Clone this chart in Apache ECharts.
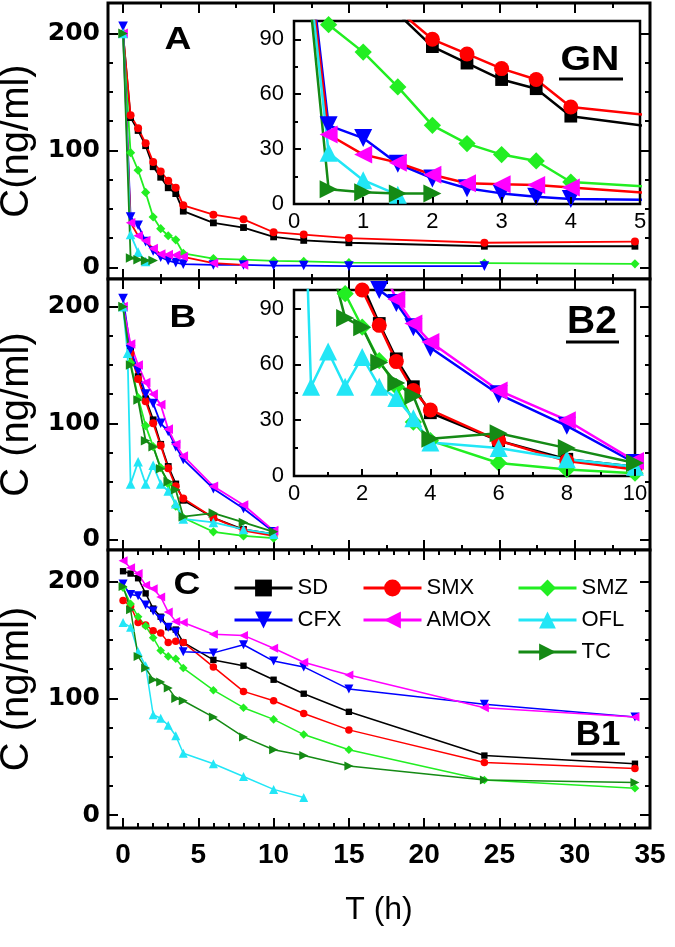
<!DOCTYPE html>
<html><head><meta charset="utf-8">
<script src="https://cdn.jsdelivr.net/npm/echarts@6/dist/echarts.min.js"></script>
<style>html,body{margin:0;padding:0;background:#fff}#c{width:675px;height:947px}</style>
</head><body><div id="c"></div>
<script>
// ===== DATA: [time (h), concentration (ng/ml)] =====
const names = ['SD','SMX','SMZ','CFX','AMOX','OFL','TC'];
// Panel A (GN) — also shown zoomed in the GN inset
const sdA   = [[0,200],[0.5,128],[1,117],[1.5,104],[2,86],[2.5,77],[3,68],[3.5,63],[4,48],[6,38],[8,34],[10,26],[12,23],[15,21],[24,18],[34,18]];
const smxA  = [[0,200],[0.5,130],[1,119],[1.5,106],[2,90],[2.5,82],[3,74],[3.5,68],[4,53],[6,45],[8,41],[10,30],[12,28],[15,25],[24,21],[34,22]];
const smzA  = [[0,200],[0.5,98],[1,83],[1.5,64],[2,43],[2.5,33],[3,27],[3.5,23.5],[4,12],[6,7.5],[8,6.5],[10,5.5],[12,5],[15,4],[24,3.5],[34,3]];
const cfxA  = [[0,206],[0.5,43],[1,36],[1.5,22],[2,14],[2.5,8.6],[3,5.8],[3.5,4],[4,2.7],[6,2],[8,2],[10,1.5],[12,1.5],[15,1],[24,1]];
const amoxA = [[0,200],[0.5,38],[1,27],[1.5,22.6],[2,16],[2.5,11.3],[3,10.8],[3.5,10.4],[4,9],[6,3.6],[8,2]];
const oflA  = [[0,200],[0.5,28],[1,13],[1.5,5]];
const tcA   = [[0,200],[0.5,8],[1,6.4],[1.5,5.8],[2,5.8]];
// Panel B — also shown zoomed in the B2 inset
const sdB   = [[0,200],[0.5,163],[1,140],[1.5,121],[2,103],[2.5,82],[3,63],[3.5,48],[4,34],[6,19],[8,9],[10,5]];
const smxB  = [[0,200],[0.5,160],[1,138],[1.5,119],[2,100],[2.5,81],[3,61.5],[3.5,46],[4,35.5],[6,19],[8,8],[10,3.5]];
const smzB  = [[0,200],[0.5,152],[1,122],[1.5,98],[2,80],[2.5,62],[3,48],[3.5,29],[4,19],[6,7],[8,3.5],[10,1.5]];
const cfxB  = [[0,207],[0.5,163],[1,145],[1.5,125],[2,117],[2.5,100],[3,93],[3.5,80],[4,69],[6,44],[8,27],[10,7]];
const amoxB = [[0,200],[0.5,168],[1,150],[1.5,135],[2,125],[2.5,116],[3,95],[3.5,82],[4,72],[6,46],[8,30],[10,8]];
const oflB  = [[0,200],[0.3,160],[0.5,48],[1,67],[1.5,48],[2,64],[2.5,48],[3,42],[3.5,31],[4,18],[6,15],[8,9],[10,5]];
const tcB   = [[0,200],[0.5,150],[1,120],[1.5,85],[2,80],[2.5,61],[3,50],[3.5,43],[4,20],[6,23],[8,15],[10,7]];
// Panel C (B1)
const sdC   = [[0,209],[0.5,207],[1,203],[1.5,190],[2,177],[2.5,170],[3,161],[3.5,159],[4,148],[6,133],[8,128],[10,116],[12,104],[15,88.5],[24,51],[34,44]];
const smxC  = [[0,184],[0.5,179],[1,165],[1.5,163],[2,158],[2.5,156],[3,148],[3.5,149],[4,148],[6,127],[8,106],[10,98],[12,87],[15,73],[24,45],[34,40]];
const smzC  = [[0,195],[0.5,181],[1,170],[1.5,162],[2,152],[2.5,141],[3,136],[3.5,134],[4,126],[6,107],[8,92],[10,82],[12,69],[15,56],[24,30],[34,23]];
const cfxC  = [[0,198],[0.5,189],[1,188],[1.5,180],[2,175],[2.5,168],[3,161],[3.5,157],[4,140],[6,139],[8,146],[10,132],[12,127],[15,108],[24,95],[34,84]];
const amoxC = [[0,218],[0.5,212],[1,207],[1.5,197],[2,194],[2.5,187],[3,174],[3.5,166],[4,165],[6,155],[8,154],[10,143],[12,131],[15,120],[24,92],[34,84]];
const oflC  = [[0,165],[0.5,161],[1,140],[1.5,128],[2,86],[2.5,83],[3,77],[3.5,68],[4,53],[6,44],[8,33],[10,22],[12,15]];
const tcC   = [[0,196],[0.5,176],[1,136],[1.5,126],[2,116],[2.5,114],[3,109],[3.5,100],[4,98],[6,84],[8,67],[10,56],[12,51],[15,42],[24,30],[34,28]];
// Tick labels
const xTickLabels = [0,5,10,15,20,25,30,35];
const yTickLabels = [0,100,200];
const xMinorAB = [2.5,7.5,12.5,17.5,22.5,27.5,32.5];
const xMinorC = [1,2,3,4,6,7,8,9,11,12,13,14,16,17,18,19,21,22,23,24,26,27,28,29,31,32,33,34];
const yMinor = [25,50,75,125,150,175];

// ===== STYLE =====
const colors = {SD:'#000000', SMX:'#ff0000', SMZ:'#22ee22', CFX:'#0000ff', AMOX:'#ff00ff', OFL:'#22e6f6', TC:'#158a15'};
const symbols = {SD:['rect',0,0.85], SMX:['circle',0,1], SMZ:['diamond',0,1.15], CFX:['triangle',180,1.2], AMOX:['triangle',90,1.2], OFL:['triangle',0,1.2], TC:['triangle',-90,1.2]};
const FONT = '"Liberation Sans", Arial, sans-serif';
const tickLS = {color:'#000', width:2};

const xAxes = [], yAxes = [];
function axis(list, grid, min, max, pos, ticks, len, labels, extra) {
  list.push(Object.assign({
    type:'value', gridIndex:grid, min:min, max:max, position:pos,
    axisLine:{show:false, onZero:false}, splitLine:{show:false},
    axisTick:{show:true, inside:true, length:len, customValues:ticks, lineStyle:tickLS},
    axisLabel: labels ? Object.assign({show:true, customValues:ticks, showMinLabel:true, showMaxLabel:true}, labels) : {show:false}
  }, extra || {}));
  return list.length - 1;
}
const ylab = {fontFamily:'"DejaVu Sans", sans-serif', fontWeight:'bold', fontSize:25, color:'#000', margin:8};
const xlab = {fontFamily:FONT, fontWeight:'bold', fontSize:28, color:'#000', margin:13};
const panels = [
  {grid:0, yMin:-10, yMax:226, xMinor:xMinorAB, yName:'C(ng/ml)'},
  {grid:1, yMin:-8.6, yMax:223.7, xMinor:xMinorAB, yName:'C (ng/ml)'},
  {grid:2, yMin:-11.1, yMax:227.2, xMinor:xMinorC, yName:'C (ng/ml)', xLabels:true}
];
panels.forEach(p => {
  p.xi = axis(xAxes, p.grid, -1, 35, 'bottom', xTickLabels, 10, p.xLabels ? xlab : null,
    p.xLabels ? {name:'T (h)', nameLocation:'middle', nameGap:66, nameTextStyle:{fontFamily:FONT, fontSize:32, color:'#000'}} : {});
  axis(xAxes, p.grid, -1, 35, 'bottom', p.xMinor, 5, null);
  axis(xAxes, p.grid, -1, 35, 'top', xTickLabels, 10, null);
  axis(xAxes, p.grid, -1, 35, 'top', p.xMinor, 5, null);
  p.yi = axis(yAxes, p.grid, p.yMin, p.yMax, 'left', yTickLabels, 10, ylab,
    {name:p.yName, nameLocation:'middle', nameGap:63, nameTextStyle:{fontFamily:FONT, fontSize:40, color:'#000'}});
  axis(yAxes, p.grid, p.yMin, p.yMax, 'left', yMinor, 5, null);
  axis(yAxes, p.grid, p.yMin, p.yMax, 'right', yTickLabels, 10, null);
  axis(yAxes, p.grid, p.yMin, p.yMax, 'right', yMinor, 5, null);
});
// insets
const insLab = {fontFamily:FONT, fontSize:22, color:'#000'};
function insetAxes(grid, xmax, xint) {
  xAxes.push({type:'value', gridIndex:grid, min:0, max:xmax, interval:xint, position:'bottom', z:7,
    axisLine:{show:false,onZero:false}, splitLine:{show:false},
    axisTick:{inside:true, length:7, lineStyle:tickLS}, minorTick:{show:true, splitNumber:2, length:4, lineStyle:tickLS},
    axisLabel:Object.assign({margin:7}, insLab)});
  yAxes.push({type:'value', gridIndex:grid, min:0, max:100, interval:30, position:'left', z:7,
    axisLine:{show:false,onZero:false}, splitLine:{show:false},
    axisTick:{inside:true, length:7, lineStyle:tickLS}, minorTick:{show:true, splitNumber:2, length:4, lineStyle:tickLS},
    axisLabel:Object.assign({margin:10}, insLab)});
  return [xAxes.length-1, yAxes.length-1];
}
const gnAx = insetAxes(3, 5, 1);
const b2Ax = insetAxes(4, 10, 2);

function mk(name, data, xi, yi, size, lw, z, lineColor) {
  const s = symbols[name];
  return {type:'line', name:name, data:data, xAxisIndex:xi, yAxisIndex:yi,
    symbol:s[0], symbolRotate:s[1], symbolSize:size*s[2], showSymbol:true,
    lineStyle:{color:lineColor || colors[name], width:lw}, itemStyle:{color:colors[name]},
    emphasis:{disabled:true}, z:z, clip:true, animation:false};
}
const dataC = [sdC, smxC, smzC, cfxC, amoxC, oflC, tcC];
const dataA = [sdA, smxA, smzA, cfxA, amoxA, oflA, tcA];
const dataB = [sdB, smxB, smzB, cfxB, amoxB, oflB, tcB];
const series = [];
names.forEach((n,i) => series.push(mk(n, dataC[i], panels[2].xi, panels[2].yi, 7.5, 1.5, 2)));
names.forEach((n,i) => series.push(mk(n, dataA[i], panels[0].xi, panels[0].yi, 8, 1.8, 2, n==='AMOX' ? '#ff0000' : null)));
names.forEach((n,i) => series.push(mk(n, dataA[i], gnAx[0], gnAx[1], 15, 2.5, 6, n==='AMOX' ? '#ff0000' : null)));
names.forEach((n,i) => series.push(mk(n, dataB[i], panels[1].xi, panels[1].yi, 8, 1.8, 2)));
names.forEach((n,i) => series.push(mk(n, dataB[i], b2Ax[0], b2Ax[1], 15, 2.5, 6)));

function legend(left, data) {
  return {orient:'vertical', left:left, top:572, itemWidth:58, itemHeight:21, itemGap:10, data:data,
    selectedMode:false, lineStyle:{width:3}, textStyle:{fontFamily:FONT, fontSize:22, color:'#000'}, z:8};
}
function label(txt, x, y, size, sx) {
  return {type:'text', x:x, y:y, scaleX:sx || 1, z:100,
    style:{text:txt, font:'bold ' + size + 'px ' + FONT, fill:'#000', align:'center', verticalAlign:'middle', textAlign:'center', textVerticalAlign:'middle'}};
}
function uline(x1, x2, y) {
  return {type:'line', z:100, shape:{x1:x1, y1:y, x2:x2, y2:y}, style:{stroke:'#000', lineWidth:3}};
}
const gridBase = {show:true, borderColor:'#000', backgroundColor:'#fff', containLabel:false, outerBoundsMode:'none'};
const chart = echarts.init(document.getElementById('c'), null, {renderer:'canvas'});
chart.setOption({
  backgroundColor:'#fff', animation:false,
  grid:[
    Object.assign({left:108, top:3, width:542, height:276, borderWidth:3, z:0}, gridBase),
    Object.assign({left:108, top:279, width:542, height:271, borderWidth:3, z:0}, gridBase),
    Object.assign({left:108, top:550, width:542, height:278, borderWidth:3, z:0}, gridBase),
    Object.assign({left:294, top:21, width:346, height:183, borderWidth:2.5, z:5}, gridBase),
    Object.assign({left:294, top:290, width:341, height:186, borderWidth:2.5, z:5}, gridBase)
  ],
  xAxis:xAxes, yAxis:yAxes, series:series,
  legend:[legend(228, ['SD','CFX']), legend(357, ['SMX','AMOX']), legend(512, ['SMZ','OFL','TC'])],
  graphic:[
    label('A', 178, 40, 31, 1.2), label('B', 183, 318, 31, 1.2), label('C', 187, 585, 31, 1.2),
    label('GN', 590, 60, 35, 1.12), uline(559, 623, 79),
    label('B2', 592, 322, 39, 1), uline(566, 619, 342),
    label('B1', 598, 735, 35, 1), uline(571, 625, 754)
  ]
});
</script></body></html>
